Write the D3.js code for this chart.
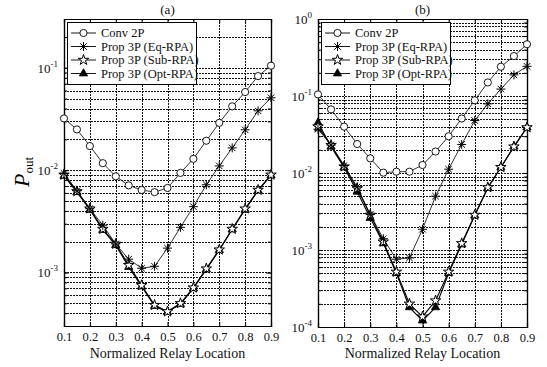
<!DOCTYPE html>
<html>
<head>
<meta charset="utf-8">
<script src="https://cdn.jsdelivr.net/npm/d3@7"></script>
<style>
  body { margin: 0; background: #fff; }
  svg { display: block; }
  svg text { font-family: 'Liberation Serif', 'DejaVu Serif', serif; }
</style>
</head>
<body>
<div id="chart"></div>
<script>
// relay location (shared x values)
const relayLocation = [0.1, 0.15, 0.2, 0.25, 0.3, 0.35, 0.4, 0.45, 0.5, 0.55, 0.6, 0.65, 0.7, 0.75, 0.8, 0.85, 0.9];
const xTicks = [0.1, 0.2, 0.3, 0.4, 0.5, 0.6, 0.7, 0.8, 0.9];
const seriesNames = ['Conv 2P', 'Prop 3P (Eq-RPA)', 'Prop 3P (Sub-RPA)', 'Prop 3P (Opt-RPA)'];

// panel (a)
const conv2pA = [0.032, 0.025, 0.0172, 0.0117, 0.0087, 0.0071, 0.0064, 0.0061, 0.0067, 0.0094, 0.0129, 0.0194, 0.029, 0.042, 0.058, 0.083, 0.105];
const eqRpaA = [0.0093, 0.0063, 0.0042, 0.0029, 0.0019, 0.00135, 0.0011, 0.00115, 0.00173, 0.00276, 0.0044, 0.0072, 0.011, 0.0165, 0.0248, 0.038, 0.051];
const subRpaA = [0.009, 0.0062, 0.0042, 0.00266, 0.0019, 0.00118, 0.00075, 0.00048, 0.000415, 0.0005, 0.00071, 0.00109, 0.00167, 0.00266, 0.0042, 0.0064, 0.009];
const optRpaA = [0.0088, 0.0061, 0.0041, 0.0026, 0.00185, 0.00113, 0.00073, 0.00047, 0.00041, 0.00049, 0.0007, 0.00107, 0.00165, 0.00263, 0.0041, 0.0063, 0.0089];
const yTicksA = [-3, -2, -1];

// panel (b)
const conv2pB = [0.105, 0.067, 0.04, 0.0238, 0.0155, 0.0101, 0.0104, 0.0104, 0.0127, 0.019, 0.03, 0.051, 0.088, 0.15, 0.24, 0.33, 0.47];
const eqRpaB = [0.037, 0.023, 0.0125, 0.0066, 0.0029, 0.0014, 0.00076, 0.00079, 0.00186, 0.005, 0.0112, 0.0235, 0.048, 0.079, 0.123, 0.188, 0.243];
const subRpaB = [0.04, 0.023, 0.0121, 0.0063, 0.00285, 0.00128, 0.00052, 0.0002, 0.000136, 0.00022, 0.00052, 0.00122, 0.00285, 0.0065, 0.0119, 0.022, 0.039];
const optRpaB = [0.045, 0.022, 0.0118, 0.0057, 0.0026, 0.00122, 0.0005, 0.00018, 0.000121, 0.00018, 0.0005, 0.00118, 0.0028, 0.0064, 0.0118, 0.022, 0.039];
const yTicksB = [-4, -3, -2, -1, 0];

const width = 547;
const height = 367;

const panels = [
  { title: '(a)', left: 64, right: 271, top: 19, bottom: 326, domain: [3e-4, 0.3],
    yTicks: yTicksA, data: [conv2pA, eqRpaA, subRpaA, optRpaA] },
  { title: '(b)', left: 318, right: 527, top: 19, bottom: 327, domain: [1e-4, 1],
    yTicks: yTicksB, data: [conv2pB, eqRpaB, subRpaB, optRpaB] },
];

const svg = d3.select('#chart').append('svg')
  .attr('width', width)
  .attr('height', height);

// matlab-like '*' marker: plus and cross together
const asteriskPath = (r) => {
  const d = r * 0.72;
  return `M${-r},0L${r},0M0,${-r}L0,${r}M${-d},${-d}L${d},${d}M${-d},${d}L${d},${-d}`;
};

function drawMarker(g, type) {
  if (type === 0) {
    g.append('circle').attr('r', 3.6).attr('fill', '#fff').attr('stroke', '#000').attr('stroke-width', 0.9);
  } else if (type === 1) {
    g.append('path').attr('d', asteriskPath(4.5)).attr('fill', 'none').attr('stroke', '#000').attr('stroke-width', 1);
  } else if (type === 2) {
    g.append('path').attr('d', d3.symbol(d3.symbolStar, 34)()).attr('fill', '#fff').attr('stroke', '#000').attr('stroke-width', 1);
  } else {
    g.append('path').attr('d', d3.symbol(d3.symbolTriangle, 30)()).attr('fill', '#000').attr('stroke', '#000').attr('stroke-width', 0.8);
  }
}

panels.forEach((p) => {
  const x = d3.scaleLinear().domain([0.1, 0.9]).range([p.left, p.right]);
  const y = d3.scaleLog().domain(p.domain).range([p.bottom, p.top]);
  const g = svg.append('g');

  // grid lines
  const minor = [];
  for (let e = -5; e <= 0; e++) {
    for (let m = 1; m <= 9; m++) {
      const v = m * Math.pow(10, e);
      if (v >= p.domain[0] * 0.999 && v <= p.domain[1] * 1.001) minor.push(v);
    }
  }
  g.append('g').selectAll('line').data(minor).join('line')
    .attr('x1', p.left).attr('x2', p.right)
    .attr('y1', (d) => Math.round(y(d)) + 0.5).attr('y2', (d) => Math.round(y(d)) + 0.5)
    .attr('stroke', '#111').attr('stroke-width', 1).attr('stroke-dasharray', '2,1');
  g.append('g').selectAll('line').data(xTicks).join('line')
    .attr('x1', (d) => Math.round(x(d)) + 0.5).attr('x2', (d) => Math.round(x(d)) + 0.5)
    .attr('y1', p.top).attr('y2', p.bottom)
    .attr('stroke', '#111').attr('stroke-width', 1).attr('stroke-dasharray', '2,1');

  // axes (ticks inward, on all sides)
  const xAxis = d3.axisBottom(x).tickValues(xTicks).tickSize(-4).tickPadding(6).tickFormat(d3.format('.1f'));
  const gx = g.append('g').attr('transform', `translate(0,${p.bottom})`).call(xAxis);
  gx.attr('font-family', null);
  gx.selectAll('text').attr('font-size', 12.5).attr('fill', '#111');
  g.append('g').attr('transform', `translate(0,${p.top})`)
    .call(d3.axisTop(x).tickValues(xTicks).tickSize(-4).tickFormat(''));

  const majors = p.yTicks.map((e) => Math.pow(10, e));
  g.append('g').attr('transform', `translate(${p.left},0)`)
    .call(d3.axisLeft(y).tickValues(minor).tickSize(-3).tickFormat(''));
  g.append('g').attr('transform', `translate(${p.left},0)`)
    .call(d3.axisLeft(y).tickValues(majors).tickSize(-5).tickFormat(''));
  g.append('g').attr('transform', `translate(${p.right},0)`)
    .call(d3.axisRight(y).tickValues(minor).tickSize(-3).tickFormat(''));
  g.append('g').attr('transform', `translate(${p.right},0)`)
    .call(d3.axisRight(y).tickValues(majors).tickSize(-5).tickFormat(''));
  g.selectAll('.domain').attr('stroke', '#000').attr('stroke-width', 1.2);
  g.selectAll('.tick line').attr('stroke', '#000');

  // y tick labels 10^e
  const ylab = g.append('g').selectAll('text').data(p.yTicks).join('text')
    .attr('x', p.left - 6)
    .attr('y', (d) => y(Math.pow(10, d)) + 5)
    .attr('text-anchor', 'end')
    .attr('font-size', 13)
    .attr('fill', '#111');
  ylab.append('tspan').text('10');
  ylab.append('tspan').attr('dy', -6).attr('font-size', 9).text((d) => (d === 0 ? '0' : '-' + Math.abs(d)));

  // title and x label
  g.append('text').attr('x', (p.left + p.right) / 2).attr('y', 14)
    .attr('text-anchor', 'middle').attr('font-size', 13).attr('fill', '#111').text(p.title);
  g.append('text').attr('x', (p.left + p.right) / 2).attr('y', 358)
    .attr('text-anchor', 'middle').attr('font-size', 14).attr('fill', '#111').text('Normalized Relay Location');

  // series lines, drawn bottom-up so Conv 2P ends on top
  const line = d3.line().x((d) => x(d[0])).y((d) => y(d[1]));
  const order = [3, 2, 1, 0];
  order.forEach((si) => {
    const pts = relayLocation.map((v, i) => [v, p.data[si][i]]);
    g.append('path').datum(pts)
      .attr('d', line)
      .attr('fill', 'none')
      .attr('stroke', '#000')
      .attr('stroke-width', si >= 2 ? 1.1 : 0.8);
    g.append('g').selectAll('g').data(pts).join('g')
      .attr('transform', (d) => `translate(${x(d[0])},${y(d[1])})`)
      .each(function () { drawMarker(d3.select(this), si); });
  });

  // legend
  const lx = p.left + 3;
  const ly = 22;
  const lg = g.append('g');
  lg.append('rect').attr('x', lx + 0.5).attr('y', ly + 0.5).attr('width', 129).attr('height', 62)
    .attr('fill', '#fff').attr('stroke', '#000').attr('stroke-width', 1);
  seriesNames.forEach((name, i) => {
    const ry = ly + 11 + i * 13.5;
    lg.append('line').attr('x1', lx + 4).attr('x2', lx + 29).attr('y1', ry).attr('y2', ry)
      .attr('stroke', '#000').attr('stroke-width', 0.9);
    drawMarker(lg.append('g').attr('transform', `translate(${lx + 16.5},${ry})`), i);
    lg.append('text').attr('x', lx + 34).attr('y', ry + 4)
      .attr('font-size', 12.5).attr('fill', '#111').text(name);
  });
});

// y axis label P_out
const ylabel = svg.append('text')
  .attr('transform', 'translate(29,172) rotate(-90)')
  .attr('text-anchor', 'middle');
ylabel.append('tspan').attr('font-style', 'italic').attr('font-size', 22).text('P');
ylabel.append('tspan').attr('font-size', 13).attr('dy', 4).text('out');
</script>
</body>
</html>
